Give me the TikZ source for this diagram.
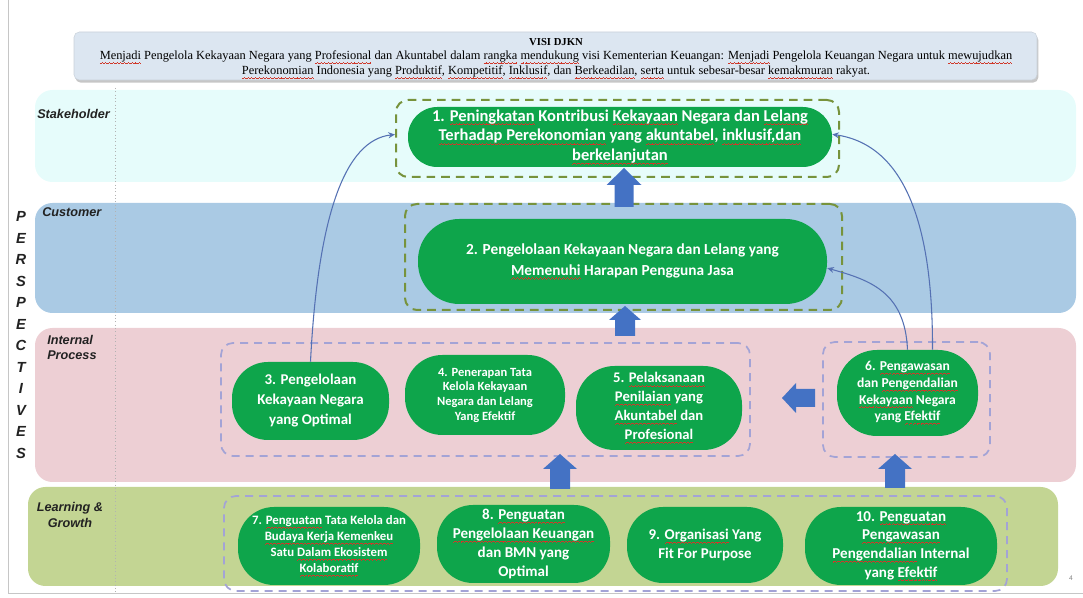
\documentclass[tikz,border=0pt]{standalone}
\usepackage{fontspec}
\setmainfont{Carlito}
\newfontfamily\visifont{Liberation Serif}
\newfontfamily\labfont{Liberation Sans}
\usetikzlibrary{fit,calc,arrows.meta,shadows}
\definecolor{stakeC}{HTML}{E6FCFB}
\definecolor{custC}{HTML}{AACAE4}
\definecolor{intC}{HTML}{EDCFD4}
\definecolor{learnC}{HTML}{C3D593}
\definecolor{nodeG}{HTML}{0EA54B}
\definecolor{dashG}{HTML}{77933C}
\definecolor{dashL}{HTML}{A3A3D6}
\definecolor{blockB}{HTML}{4472C4}
\definecolor{thinB}{HTML}{5571B3}
\definecolor{visiC}{HTML}{DCE6F1}
\definecolor{labC}{HTML}{222222}
\definecolor{squigC}{HTML}{D0382A}
% spell-check style wavy underline, drawn with small rules
\newsavebox\sqword
\newcommand\sqwave{\hbox{\rule[-2.9pt]{0.7pt}{0.45pt}\rule[-2.5pt]{0.7pt}{0.45pt}\rule[-2.1pt]{0.7pt}{0.45pt}\rule[-2.5pt]{0.7pt}{0.45pt}}}
\newcommand\sq[1]{\sbox\sqword{#1}\leavevmode\rlap{\textcolor{squigC}{\hbox to \wd\sqword{\xleaders\sqwave\hfill}}}\usebox\sqword}
% block arrow pointing up: x, tip y, tail y, head half width, shaft half width, head length
\newcommand\blockup[6]{\fill[blockB] ({#1-#5},#3) -- ({#1-#5},{#2+#6}) -- ({#1-#4},{#2+#6}) -- (#1,#2)
  -- ({#1+#4},{#2+#6}) -- ({#1+#5},{#2+#6}) -- ({#1+#5},#3) -- cycle;}
% block arrow pointing left: y, tip x, tail x, head half width, shaft half width, head length
\newcommand\blockleft[6]{\fill[blockB] (#3,{#1-#5}) -- ({#2+#6},{#1-#5}) -- ({#2+#6},{#1-#4}) -- (#2,#1)
  -- ({#2+#6},{#1+#4}) -- ({#2+#6},{#1+#5}) -- (#3,{#1+#5}) -- cycle;}
\begin{document}
\begin{tikzpicture}[x=0.75pt,y=-0.75pt,
  band/.style={draw=none,inner sep=0pt,rounded corners=13pt},
  gnode/.style={fill=nodeG,text=white,inner sep=0pt,align=center,anchor=center},
  dgbox/.style={draw=dashG,line width=1.5pt,dash pattern=on 6.5pt off 4.5pt,rounded corners=9pt,inner sep=0pt},
  dlbox/.style={draw=dashL,line width=1.3pt,dash pattern=on 6pt off 4.5pt,rounded corners=9pt,inner sep=0pt},
  tarrow/.style={draw=thinB,line width=0.8pt,-{Stealth[length=5pt,width=4.5pt]}},
  blab/.style={font=\labfont\bfseries\itshape\fontsize{9.5}{11.5}\selectfont,text=labC,inner sep=0pt}
]
\useasboundingbox (0,0) rectangle (1083,598);
% frame lines
\draw[gray!45,line width=0.6pt] (8,0) -- (8,593) -- (1083,593);
% vision box
\node[fill=visiC,draw=visiC!80!gray,rounded corners=4pt,inner sep=0pt,
      drop shadow={shadow xshift=1pt,shadow yshift=-2pt,opacity=0.45},
      fit={(74,32)(1037,80)}] (visi) {};
\node[font=\visifont\bfseries\fontsize{8}{10}\selectfont] (visit) at (556,42) {VISI DJKN};
\node[font=\visifont\fontsize{9.3}{11.2}\selectfont,align=center,inner sep=0pt] (visitxt) at (556,65)
 {\sq{Menjadi} Pengelola Kekayaan Negara yang \sq{Profesional} dan Akuntabel dalam \sq{rangka} \sq{mendukung} visi Kementerian Keuangan: \sq{Menjadi} Pengelola Keuangan Negara untuk \sq{mewujudkan}\\
  \sq{Perekonomian} Indonesia yang \sq{Produktif}, \sq{Kompetitif}, \sq{Inklusif}, dan \sq{Berkeadilan}, \sq{serta} untuk sebesar-besar \sq{kemakmuran} rakyat.};
% bands
\node[band,fill=stakeC,fit={(35,90)(1076,182)}] (bs) {};
\node[band,fill=custC,fit={(35,203)(1076,313)}] (bc) {};
\node[band,fill=intC,fit={(35,328)(1076,482)}] (bi) {};
\node[band,fill=learnC,fit={(28,487)(1058,586)}] (bl) {};
\draw[gray!60,line width=0.5pt,dotted] (115,88) -- (115,593);
% band labels
\node[blab,anchor=west] (ls) at (37,114) {Stakeholder};
\node[blab,anchor=west] (lc) at (42,212) {Customer};
\node[blab,anchor=north west,align=left] (li) at (47,335) {Internal\\Process};
\node[blab,align=center] (ll) at (70,515) {Learning \&\\Growth};
\node[font=\labfont\bfseries\itshape\fontsize{11}{16.1}\selectfont,align=center,text=labC,inner sep=0pt] (persp) at (21,335)
 {P\\E\\R\\S\\P\\E\\C\\T\\I\\V\\E\\S};
% dashed groups
\node[dgbox,fit={(396,100)(839,177)}] (d1) {};
\node[dgbox,fit={(405,204)(842,310)}] (d2) {};
\node[dlbox,fit={(221,343)(750,456)}] (d35) {};
\node[dlbox,fit={(823,342)(990,457)}] (d6) {};
\node[dlbox,fit={(224,496)(1007,591)}] (d710) {};
% objective nodes
\node[gnode,rounded corners=22pt,minimum width=318pt,minimum height=45pt,font=\bfseries\fontsize{12.4}{14.8}\selectfont] (n1) at (620,137)
 {1. \sq{Peningkatan} Kontribusi \sq{Kekayaan} Negara dan \sq{Lelang}\\\sq{Terhadap Perekonomian} yang \sq{akuntabel}, \sq{inklusif,dan}\\\sq{berkelanjutan}};
\node[gnode,rounded corners=31pt,minimum width=306.75pt,minimum height=63.75pt,font=\bfseries\fontsize{11.5}{15.5}\selectfont] (n2) at (622.5,261.5)
 {2. Pengelolaan Kekayaan Negara dan Lelang yang\\\sq{Memenuhi} Harapan Pengguna Jasa};
\node[gnode,rounded corners=27pt,minimum width=117.75pt,minimum height=58.5pt,font=\bfseries\fontsize{11.2}{15}\selectfont] (n3) at (310.5,401)
 {3. Pengelolaan\\Kekayaan Negara\\yang Optimal};
\node[gnode,rounded corners=28pt,minimum width=120pt,minimum height=60pt,font=\bfseries\fontsize{9.4}{11}\selectfont] (n4) at (485,395)
 {4. Penerapan Tata\\Kelola Kekayaan\\Negara dan Lelang\\Yang Efektif};
\node[gnode,rounded corners=29pt,minimum width=124.5pt,minimum height=63pt,font=\bfseries\fontsize{11}{14.2}\selectfont] (n5) at (659,408)
 {5. \sq{Pelaksanaan}\\\sq{Penilaian} yang\\\sq{Akuntabel} dan\\\sq{Profesional}};
\node[gnode,rounded corners=30pt,minimum width=105.75pt,minimum height=64.5pt,font=\bfseries\fontsize{10.2}{12.5}\selectfont] (n6) at (907.5,393)
 {6. \sq{Pengawasan}\\dan \sq{Pengendalian}\\\sq{Kekayaan} Negara\\yang \sq{Efektif}};
\node[gnode,rounded corners=27pt,minimum width=136.5pt,minimum height=58.5pt,font=\bfseries\fontsize{9.6}{12.1}\selectfont] (n7) at (329,546)
 {7. \sq{Penguatan} Tata Kelola dan\\\sq{Budaya Kerja Kemenkeu}\\Satu \sq{Dalam Ekosistem}\\\sq{Kolaboratif}};
\node[gnode,rounded corners=27pt,minimum width=129.75pt,minimum height=58.5pt,font=\bfseries\fontsize{11.3}{14.2}\selectfont] (n8) at (523.5,544)
 {8. \sq{Penguatan}\\\sq{Pengelolaan Keuangan}\\dan BMN yang\\Optimal};
\node[gnode,rounded corners=27pt,minimum width=117pt,minimum height=57pt,font=\bfseries\fontsize{11.2}{14.2}\selectfont] (n9) at (705,545)
 {9. \sq{Organisasi} Yang\\Fit For Purpose};
\node[gnode,rounded corners=27pt,minimum width=144pt,minimum height=58.5pt,font=\bfseries\fontsize{11.3}{14}\selectfont] (n10) at (901,546)
 {10. \sq{Penguatan}\\\sq{Pengawasan}\\\sq{Pengendalian} Internal\\yang \sq{Efektif}};
% block arrows
\blockup{624}{168}{207}{17.5}{9.5}{17}
\blockup{625}{306}{336}{16}{10}{14}
\blockleft{398}{782}{815}{15}{9}{14}
\blockup{560}{454}{489}{17}{10}{15}
\blockup{895}{454}{488}{17}{10}{15}
% thin curved arrows
\draw[tarrow] (n3.north) .. controls (318,215) and (345,140) .. ([yshift=3pt]d1.west);
\draw[tarrow] ($(n6.north)+(25,0)$) .. controls (933,225) and (905,145) .. ([yshift=2pt]n1.east);
\draw[tarrow] (n6.north) .. controls (905,292) and (870,280) .. ([yshift=-5pt]n2.east);
% page number
\node[font=\labfont\fontsize{5}{6}\selectfont,text=gray,inner sep=0pt] (pg) at (1071,578) {4};
\end{tikzpicture}
\end{document}
